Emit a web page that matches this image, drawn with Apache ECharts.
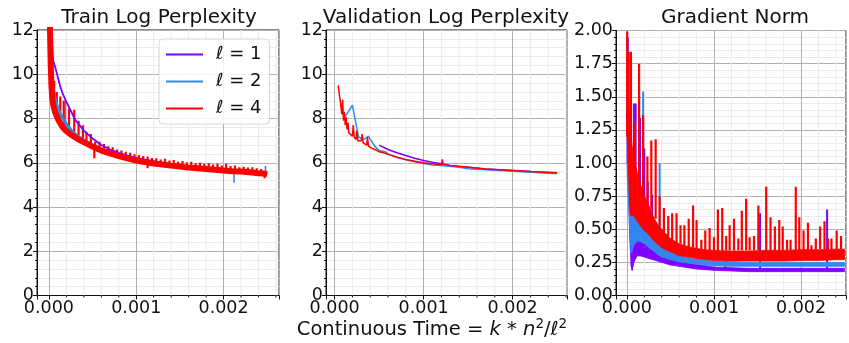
<!DOCTYPE html>
<html>
<head>
<meta charset="utf-8">
<script src="https://cdn.jsdelivr.net/npm/echarts@6/dist/echarts.min.js"></script>
<style>
  html, body { margin: 0; padding: 0; background: #fff; }
  #chart { width: 849px; height: 343px; }
</style>
</head>
<body>
<div id="chart"></div>
<script>
// ---- data ----
const seriesNames = ['ℓ = 1', 'ℓ = 2', 'ℓ = 4'];
const xMajorTicks = [0, 0.001, 0.002];
const xMinorTicks = [0.0002, 0.0004, 0.0006, 0.0008, 0.0012, 0.0014, 0.0016, 0.0018, 0.0022, 0.0024, 0.0026];

// train log perplexity
const trainX  = [0.00001, 0.00002, 0.00003, 0.00004, 0.00005, 0.00007, 0.0001, 0.00013, 0.00016, 0.0002, 0.00025, 0.0003, 0.00035, 0.0004, 0.0005, 0.0006, 0.0007, 0.0008, 0.0009, 0.001, 0.0011, 0.0012, 0.0013, 0.0014, 0.0015, 0.0016, 0.0017, 0.0018, 0.0019, 0.002, 0.0021, 0.0022, 0.0023, 0.0024, 0.0025];
const trainL1 = [14.0, 13.5, 12.3, 11.0, 10.6, 10.35, 9.9, 9.45, 9.1, 8.75, 8.35, 7.95, 7.7, 7.45, 7.1, 6.8, 6.6, 6.45, 6.32, 6.22, 6.14, 6.07, 6.0, 5.94, 5.88, 5.83, 5.79, 5.75, 5.71, 5.67, 5.64, 5.61, 5.58, 5.55, 5.52];
const trainL2 = [13.0, 11.5, 10.2, 9.6, 9.3, 8.9, 8.5, 8.2, 8.0, 7.75, 7.5, 7.3, 7.15, 7.0, 6.75, 6.55, 6.42, 6.3, 6.2, 6.1, 6.03, 5.97, 5.92, 5.87, 5.82, 5.78, 5.74, 5.71, 5.67, 5.64, 5.61, 5.58, 5.56, 5.53, 5.5];
const trainL4 = [12.5, 10.5, 9.4, 8.9, 8.6, 8.3, 8.0, 7.78, 7.6, 7.43, 7.28, 7.15, 7.03, 6.93, 6.73, 6.55, 6.42, 6.3, 6.2, 6.1, 6.03, 5.97, 5.92, 5.87, 5.83, 5.78, 5.75, 5.72, 5.68, 5.65, 5.62, 5.6, 5.57, 5.53, 5.5];
// spikes on the train curves: x, low end, high end
const trainL4SpikeX  = [0.00003, 0.00006, 0.00009, 0.00013, 0.00017, 0.00023, 0.00029, 0.00034, 0.00039, 0.00043, 0.00048, 0.00052, 0.00053, 0.00058, 0.00063, 0.00068, 0.00073, 0.00078, 0.00083, 0.00088, 0.00093, 0.00098, 0.00103, 0.00108, 0.00113, 0.00113, 0.00118, 0.00123, 0.00128, 0.00133, 0.00138, 0.00143, 0.00148, 0.00153, 0.00158, 0.00163, 0.00168, 0.00173, 0.00178, 0.00183, 0.00188, 0.00193, 0.00198, 0.00203, 0.00208, 0.00213, 0.00218, 0.00223, 0.00228, 0.00233, 0.00238, 0.00243, 0.00247];
const trainL4SpikeLo = [9.3, 8.4, 8.1, 7.8, 7.6, 7.35, 7.15, 7.05, 6.95, 6.9, 6.75, 6.2, 6.7, 6.62, 6.5, 6.45, 6.4, 6.33, 6.28, 6.22, 6.17, 6.12, 6.08, 6.05, 5.75, 6.0, 5.98, 5.95, 5.92, 5.9, 5.88, 5.86, 5.84, 5.82, 5.8, 5.78, 5.76, 5.74, 5.72, 5.7, 5.69, 5.67, 5.66, 5.64, 5.63, 5.61, 5.6, 5.59, 5.57, 5.56, 5.54, 5.53, 5.3];
const trainL4SpikeHi = [10.2, 9.7, 9.2, 9.0, 8.8, 8.45, 8.4, 7.9, 7.7, 7.4, 7.3, 6.7, 6.95, 6.95, 6.85, 6.75, 6.7, 6.6, 6.55, 6.5, 6.45, 6.38, 6.35, 6.3, 6.0, 6.28, 6.22, 6.2, 6.15, 6.18, 6.1, 6.12, 6.05, 6.08, 6.02, 6.05, 5.98, 6.0, 5.95, 5.98, 5.92, 5.95, 5.88, 5.95, 5.85, 5.88, 5.8, 5.82, 5.78, 5.8, 5.75, 5.72, 5.6];
const trainL2SpikeX  = [0.00012, 0.00019, 0.00212, 0.00248];
const trainL2SpikeLo = [7.9, 7.6, 5.1, 5.45];
const trainL2SpikeHi = [8.35, 8.85, 5.6, 5.85];

// validation log perplexity
const valL1X = [0.0005, 0.0006, 0.0007, 0.0008, 0.0009, 0.001, 0.0011, 0.0012, 0.0013, 0.0015, 0.0017, 0.002, 0.0022, 0.0025];
const valL1Y = [6.8, 6.6, 6.45, 6.33, 6.2, 6.1, 6.02, 5.95, 5.88, 5.8, 5.72, 5.65, 5.6, 5.53];
const valL2X = [0.00012, 0.0002, 0.00027, 0.00033, 0.00038, 0.00045, 0.0005, 0.00057, 0.0006, 0.0007, 0.0008, 0.0009, 0.001, 0.0011, 0.0012, 0.0014, 0.0015, 0.0017, 0.002, 0.0022, 0.0025];
const valL2Y = [8.1, 8.6, 7.15, 7.05, 7.2, 6.75, 6.55, 6.5, 6.4, 6.25, 6.13, 6.05, 5.97, 5.9, 5.87, 5.8, 5.73, 5.68, 5.62, 5.57, 5.5];
const valL4X = [0.00004, 0.00006, 0.00007, 0.00008, 0.00009, 0.0001, 0.00011, 0.00012, 0.00013, 0.00014, 0.00015, 0.00016, 0.00018, 0.0002, 0.00021, 0.00022, 0.00024, 0.00025, 0.00026, 0.00028, 0.0003, 0.00031, 0.00032, 0.00034, 0.00036, 0.00037, 0.00038, 0.0004, 0.00042, 0.00045, 0.0005, 0.00055, 0.0006, 0.0007, 0.0008, 0.0009, 0.001, 0.0011, 0.0012, 0.00121, 0.00122, 0.0013, 0.0015, 0.0017, 0.002, 0.0022, 0.0025];
const valL4Y = [9.5, 9.5, 8.6, 8.2, 8.85, 7.9, 8.3, 7.7, 8.05, 7.5, 7.8, 7.35, 7.3, 7.2, 7.7, 7.15, 7.05, 7.45, 7.0, 6.95, 7.0, 7.3, 6.9, 6.85, 6.8, 7.15, 6.75, 6.7, 6.65, 6.6, 6.5, 6.45, 6.38, 6.25, 6.15, 6.07, 6.0, 5.95, 5.9, 6.15, 5.92, 5.87, 5.8, 5.72, 5.65, 5.6, 5.55];

// gradient norm: noisy bands as low / high envelopes
const gradX    = [0.000003, 0.00002, 0.00003, 0.00004, 0.00005, 0.00006, 0.00008, 0.0001, 0.00012, 0.00015, 0.0002, 0.00025, 0.0003, 0.00035, 0.0004, 0.0005, 0.0006, 0.0007, 0.0008, 0.0009, 0.001, 0.0012, 0.0014, 0.0016, 0.0018, 0.002, 0.0022, 0.0024, 0.0025];
const gradL1Lo = [1.0, 0.7, 0.5, 0.35, 0.22, 0.19, 0.25, 0.28, 0.3, 0.3, 0.29, 0.28, 0.27, 0.26, 0.25, 0.23, 0.22, 0.21, 0.2, 0.195, 0.19, 0.185, 0.18, 0.18, 0.18, 0.18, 0.18, 0.18, 0.18];
const gradL1Hi = [1.6, 1.4, 1.1, 0.9, 0.8, 0.7, 0.7, 0.68, 0.62, 0.55, 0.48, 0.42, 0.38, 0.34, 0.31, 0.28, 0.26, 0.245, 0.235, 0.225, 0.215, 0.21, 0.205, 0.205, 0.205, 0.205, 0.205, 0.205, 0.205];
const gradL2Lo = [0.9, 0.7, 0.5, 0.4, 0.32, 0.34, 0.38, 0.4, 0.41, 0.41, 0.39, 0.36, 0.34, 0.31, 0.29, 0.27, 0.255, 0.245, 0.235, 0.23, 0.225, 0.22, 0.22, 0.22, 0.22, 0.22, 0.22, 0.22, 0.22];
const gradL2Hi = [1.5, 1.3, 1.1, 0.9, 0.66, 0.66, 0.66, 0.66, 0.64, 0.6, 0.54, 0.48, 0.44, 0.4, 0.37, 0.33, 0.3, 0.285, 0.275, 0.265, 0.26, 0.255, 0.25, 0.25, 0.25, 0.25, 0.25, 0.25, 0.25];
const gradL4Lo = [1.2, 0.9, 0.7, 0.62, 0.6, 0.6, 0.6, 0.58, 0.56, 0.53, 0.49, 0.46, 0.42, 0.39, 0.36, 0.33, 0.3, 0.29, 0.28, 0.27, 0.265, 0.26, 0.26, 0.26, 0.26, 0.265, 0.265, 0.27, 0.27];
const gradL4Hi = [2.0, 1.45, 1.3, 1.25, 1.2, 1.12, 1.05, 0.98, 0.92, 0.85, 0.75, 0.68, 0.6, 0.54, 0.5, 0.43, 0.39, 0.37, 0.355, 0.345, 0.34, 0.335, 0.335, 0.34, 0.34, 0.345, 0.345, 0.35, 0.35];
const gradL4SpikeX  = [0.000003, 0.00002, 0.000046, 0.00009, 0.00014, 0.000186, 0.000235, 0.00028, 0.00033, 0.000376, 0.000425, 0.000475, 0.00052, 0.00057, 0.000616, 0.00066, 0.00071, 0.00076, 0.0008, 0.000855, 0.0009, 0.00095, 0.001, 0.001045, 0.001095, 0.00114, 0.00118, 0.00123, 0.00128, 0.00132, 0.00137, 0.00141, 0.00146, 0.00151, 0.0016, 0.00165, 0.0017, 0.00175, 0.00179, 0.00184, 0.00188, 0.00194, 0.00198, 0.00203, 0.00208, 0.00212, 0.00217, 0.00222, 0.00227, 0.00231, 0.00235, 0.00241, 0.00246];
const gradL4SpikeLo = [1.2, 1.0, 0.9, 0.8, 0.8, 0.75, 0.7, 0.65, 0.58, 0.52, 0.48, 0.45, 0.42, 0.4, 0.39, 0.38, 0.36, 0.36, 0.35, 0.35, 0.34, 0.34, 0.34, 0.34, 0.34, 0.34, 0.34, 0.34, 0.34, 0.34, 0.34, 0.34, 0.34, 0.34, 0.34, 0.34, 0.34, 0.34, 0.34, 0.34, 0.34, 0.34, 0.34, 0.34, 0.34, 0.34, 0.34, 0.35, 0.35, 0.35, 0.35, 0.35, 0.35];
const gradL4SpikeHi = [1.99, 1.84, 1.84, 1.3, 1.75, 1.36, 1.05, 1.17, 1.18, 0.75, 0.66, 0.6, 0.62, 0.62, 0.53, 0.53, 0.58, 0.68, 0.57, 0.42, 0.49, 0.51, 0.44, 0.65, 0.66, 0.45, 0.53, 0.58, 0.43, 0.64, 0.73, 0.44, 0.45, 0.68, 0.82, 0.59, 0.52, 0.57, 0.52, 0.42, 0.42, 0.82, 0.59, 0.49, 0.55, 0.38, 0.43, 0.52, 0.56, 0.43, 0.43, 0.49, 0.45];
const gradL1SpikeX  = [0.00001, 0.00008, 0.0001, 0.00015, 0.0002, 0.00024, 0.00029, 0.00034, 0.00113, 0.00153, 0.0023];
const gradL1SpikeLo = [1.0, 0.6, 0.6, 0.55, 0.5, 0.45, 0.4, 0.35, 0.2, 0.2, 0.2];
const gradL1SpikeHi = [1.95, 1.45, 1.45, 1.34, 1.11, 0.86, 0.76, 0.5, 0.3, 0.62, 0.65];
const gradL2SpikeX  = [0.000186, 0.000376, 0.00115];
const gradL2SpikeLo = [0.6, 0.4, 0.24];
const gradL2SpikeHi = [1.54, 1.0, 0.33];

// ---- styling ----
const FONT = 'DejaVu Sans';
const INK = '#111';
const C1 = '#7f00ff', C2 = '#3388ee', C4 = '#ff0000';

const pts = (xs, ys) => xs.map((x, i) => [x, ys[i]]);
const triples = (xs, lo, hi) => xs.map((x, i) => [x, lo[i], hi[i]]);

function spikeRender(color, width) {
  return function (params, api) {
    const a = api.coord([api.value(0), api.value(1)]);
    const b = api.coord([api.value(0), api.value(2)]);
    return { type: 'line', shape: { x1: a[0], y1: a[1], x2: b[0], y2: b[1] },
             style: { stroke: color, lineWidth: width } };
  };
}

function bandRender(color, n) {
  return function (params, api) {
    const i = params.dataIndexInside;
    if (i >= n - 1) return null;
    const p = [
      api.coord([api.value(0, i), api.value(1, i)]),
      api.coord([api.value(0, i + 1), api.value(1, i + 1)]),
      api.coord([api.value(0, i + 1), api.value(2, i + 1)]),
      api.coord([api.value(0, i), api.value(2, i)])
    ];
    return { type: 'polygon', shape: { points: p },
             style: { fill: color, stroke: color, lineWidth: 0.8 } };
  };
}

function spikes(idx, xs, lo, hi, color, width) {
  return { type: 'custom', xAxisIndex: idx, yAxisIndex: idx, clip: true, silent: true,
           data: triples(xs, lo, hi), encode: { x: 0, y: [1, 2] },
           renderItem: spikeRender(color, width) };
}

function band(idx, xs, lo, hi, color) {
  return { type: 'custom', xAxisIndex: idx, yAxisIndex: idx, clip: true, silent: true,
           data: triples(xs, lo, hi), encode: { x: 0, y: [1, 2] },
           renderItem: bandRender(color, xs.length) };
}

function line(idx, name, xs, ys, color, width) {
  return { type: 'line', name, xAxisIndex: idx, yAxisIndex: idx, data: pts(xs, ys),
           color, symbol: 'none', clip: true, lineStyle: { color, width } };
}

function minorGrid(idx, min, max) {
  return { type: 'custom', xAxisIndex: idx, yAxisIndex: idx, z: 1, silent: true, clip: false,
    data: xMinorTicks.filter(v => v > min && v < max).map(v => [v, 0]),
    encode: { x: 0, y: 1 },
    renderItem: function (params, api) {
      const x = api.coord([api.value(0), 0])[0];
      const cs = params.coordSys;
      return { type: 'group', children: [
        { type: 'line', shape: { x1: x, y1: cs.y, x2: x, y2: cs.y + cs.height }, style: { stroke: '#ebebeb', lineWidth: 1 } },
        { type: 'line', shape: { x1: x, y1: cs.y + cs.height, x2: x, y2: cs.y + cs.height + 2 }, style: { stroke: INK, lineWidth: 1 } }
      ] };
    }
  };
}

const isMajor = v => xMajorTicks.some(t => Math.abs(t - v) < 1e-9);

function xAxisFor(idx, min, max) {
  return {
    type: 'value', gridIndex: idx, min, max, splitNumber: 3,
    axisLine: { show: true, onZero: false, lineStyle: { color: INK, width: 1 } },
    axisTick: { show: true, length: 4, lineStyle: { color: INK } },
    axisLabel: { color: INK, fontSize: 17.5, fontFamily: FONT, margin: 4,
                 formatter: v => (isMajor(v) ? v.toFixed(3) : '') },
    splitLine: { show: true, lineStyle: { color: '#b0b0b0', width: 1 } },
    minorTick: { show: false }, minorSplitLine: { show: false }
  };
}

function yAxisFor(idx, max, interval, digits) {
  return {
    type: 'value', gridIndex: idx, min: 0, max, interval,
    axisLine: { show: true, onZero: false, lineStyle: { color: INK, width: 1 } },
    axisTick: { show: true, length: 4, lineStyle: { color: INK } },
    minorTick: { show: true, splitNumber: 5, length: 2, lineStyle: { color: INK } },
    axisLabel: { color: INK, fontSize: 17.5, fontFamily: FONT, margin: 3, formatter: v => v.toFixed(digits) },
    splitLine: { show: true, lineStyle: { color: '#b0b0b0', width: 1 } },
    minorSplitLine: { show: true, lineStyle: { color: '#ececec', width: 1 } }
  };
}

const xr = [[-0.0001365, 0.002635], [-0.0000966, 0.002611], [-0.0001255, 0.002517]];

const gridBox = { show: true, borderColor: INK, borderWidth: 1, backgroundColor: 'transparent' };

const option = {
  animation: false,
  backgroundColor: '#fff',
  grid: [
    Object.assign({ left: 37, top: 30, width: 242, height: 265.5 }, gridBox),
    Object.assign({ left: 326, top: 30, width: 241, height: 265.5 }, gridBox),
    Object.assign({ left: 616, top: 30.5, width: 231, height: 265 }, gridBox)
  ],
  xAxis: [xAxisFor(0, xr[0][0], xr[0][1]), xAxisFor(1, xr[1][0], xr[1][1]), xAxisFor(2, xr[2][0], xr[2][1])],
  yAxis: [yAxisFor(0, 12, 2, 0), yAxisFor(1, 12, 2, 0), yAxisFor(2, 2, 0.25, 2)],
  legend: {
    data: seriesNames, orient: 'vertical', left: 159, top: 39,
    icon: 'rect', itemWidth: 37, itemHeight: 2, itemGap: 6,
    padding: [5, 8, 5, 7], backgroundColor: 'rgba(255,255,255,0.85)',
    borderColor: '#d6d6d6', borderWidth: 1, borderRadius: 4,
    formatter: name => '{i|ℓ}{t|' + name.slice(1) + '}',
    textStyle: { padding: [0, 0, 0, 8], lineHeight: 21,
      rich: { i: { fontSize: 18, fontFamily: FONT, fontStyle: 'italic', color: INK, lineHeight: 21 },
              t: { fontSize: 18, fontFamily: FONT, color: INK, lineHeight: 21 } } }
  },
  graphic: [
    { type: 'text', x: 159, y: 18, style: { text: 'Train Log Perplexity', font: '20px "DejaVu Sans"', fill: INK, align: 'center', verticalAlign: 'middle' } },
    { type: 'text', x: 446, y: 18, style: { text: 'Validation Log Perplexity', font: '20px "DejaVu Sans"', fill: INK, align: 'center', verticalAlign: 'middle' } },
    { type: 'text', x: 735, y: 18, style: { text: 'Gradient Norm', font: '20px "DejaVu Sans"', fill: INK, align: 'center', verticalAlign: 'middle' } },
    { type: 'text', x: 432, y: 330, style: {
        text: '{a|Continuous Time = }{i|k}{a| * }{i|n}{s|2}{a|/}{i|ℓ}{s|2}',
        align: 'center', verticalAlign: 'middle',
        rich: {
          a: { fontSize: 19.5, fontFamily: FONT, fill: INK, lineHeight: 25 },
          i: { fontSize: 19.5, fontFamily: FONT, fontStyle: 'italic', fill: INK, lineHeight: 25 },
          s: { fontSize: 13.5, fontFamily: FONT, fill: INK, lineHeight: 15, verticalAlign: 'top' }
        } } }
  ],
  series: [
    // panel 1: train
    line(0, seriesNames[0], trainX, trainL1, C1, 1.8),
    line(0, seriesNames[1], trainX, trainL2, C2, 3),
    spikes(0, trainL2SpikeX, trainL2SpikeLo, trainL2SpikeHi, C2, 1.6),
    line(0, seriesNames[2], trainX, trainL4, C4, 6),
    spikes(0, trainL4SpikeX, trainL4SpikeLo, trainL4SpikeHi, C4, 2.2),
    // panel 2: validation
    line(1, seriesNames[0], valL1X, valL1Y, C1, 1.5),
    line(1, seriesNames[1], valL2X, valL2Y, C2, 1.5),
    line(1, seriesNames[2], valL4X, valL4Y, C4, 1.5),
    // panel 3: gradient norm
    band(2, gradX, gradL1Lo, gradL1Hi, C1),
    spikes(2, gradL1SpikeX, gradL1SpikeLo, gradL1SpikeHi, C1, 2),
    band(2, gradX, gradL2Lo, gradL2Hi, C2),
    spikes(2, gradL2SpikeX, gradL2SpikeLo, gradL2SpikeHi, C2, 2),
    band(2, gradX, gradL4Lo, gradL4Hi, C4),
    spikes(2, gradL4SpikeX, gradL4SpikeLo, gradL4SpikeHi, C4, 2.2),
    // minor x grid
    minorGrid(0, xr[0][0], xr[0][1]),
    minorGrid(1, xr[1][0], xr[1][1]),
    minorGrid(2, xr[2][0], xr[2][1])
  ]
};

const chart = echarts.init(document.getElementById('chart'), null, { renderer: 'canvas' });
chart.setOption(option);
window.addEventListener('resize', () => chart.resize());
</script>
</body>
</html>
